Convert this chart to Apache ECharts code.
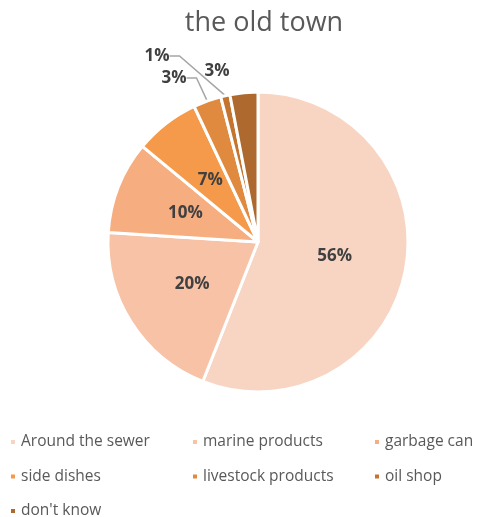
<!DOCTYPE html>
<html>
<head>
<meta charset="utf-8">
<script src="https://cdn.jsdelivr.net/npm/echarts@6/dist/echarts.min.js"></script>
<style>
  html, body { margin: 0; padding: 0; background: #fff; }
  #chart { width: 477px; height: 517px; }
</style>
</head>
<body>
<div id="chart"></div>
<script>
// Share of sources, the old town (percent)
const categories = ['Around the sewer', 'marine products', 'garbage can', 'side dishes', 'livestock products', 'oil shop', "don't know"];
const shares = [56, 20, 10, 7, 3, 1, 3];
const sliceColors = ['#F8D5C3', '#F8C2A6', '#F6AD80', '#F59A4A', '#E08A40', '#C4742F', '#AE6A2E'];

// Legend columns (three columns, read row by row)
const legendColumns = [
  ['Around the sewer', 'side dishes', "don't know"],
  ['marine products', 'livestock products'],
  ['garbage can', 'oil shop']
];

const FONT = '"Open Sans", "Noto Sans", sans-serif';
const small = new Set(['livestock products', 'oil shop', "don't know"]);

// Placement of the labels for the thin slices at the top
const outsideLabelPos = {
  'livestock products': [174, 78],
  'oil shop': [157, 56],
  "don't know": [217, 71]
};

const data = categories.map((name, i) => {
  const item = { name, value: shares[i], itemStyle: { color: sliceColors[i] } };
  if (small.has(name)) {
    item.label = { position: 'outside' };
    item.labelLine = { show: name !== "don't know" };
  }
  return item;
});

const legends = legendColumns.map((col, k) => ({
  orient: 'vertical',
  left: [9, 191, 373][k],
  top: 434,
  height: 90,
  padding: 0,
  itemGap: 18.5,
  itemWidth: 6,
  itemHeight: 6,
  icon: 'rect',
  data: col,
  textStyle: { fontFamily: FONT, fontSize: 15.5, lineHeight: 15, color: '#595959' }
}));

const chart = echarts.init(document.getElementById('chart'), null, { renderer: 'canvas' });
chart.setOption({
  animation: false,
  title: {
    text: 'the old town',
    left: 259,
    textAlign: 'center',
    top: 5,
    textStyle: { fontFamily: FONT, fontSize: 27, fontWeight: 'normal', color: '#595959' }
  },
  legend: legends,
  series: [{
    type: 'pie',
    center: [258, 242],
    radius: [0, 150],
    startAngle: 90,
    clockwise: true,
    avoidLabelOverlap: false,
    itemStyle: { borderColor: '#fff', borderWidth: 3 },
    label: {
      show: true,
      position: 'inside',
      formatter: p => p.value + '%',
      fontFamily: FONT,
      fontSize: 17,
      fontWeight: 'bold',
      color: '#404040'
    },
    labelLine: {
      show: true,
      length: 8,
      length2: 10,
      lineStyle: { color: '#A6A6A6', width: 1.5 }
    },
    labelLayout: params => {
      const name = categories[params.dataIndex];
      const pos = outsideLabelPos[name];
      if (pos) {
        return { x: pos[0], y: pos[1], align: 'center', verticalAlign: 'middle' };
      }
      return {};
    },
    data
  }]
});
</script>
</body>
</html>
